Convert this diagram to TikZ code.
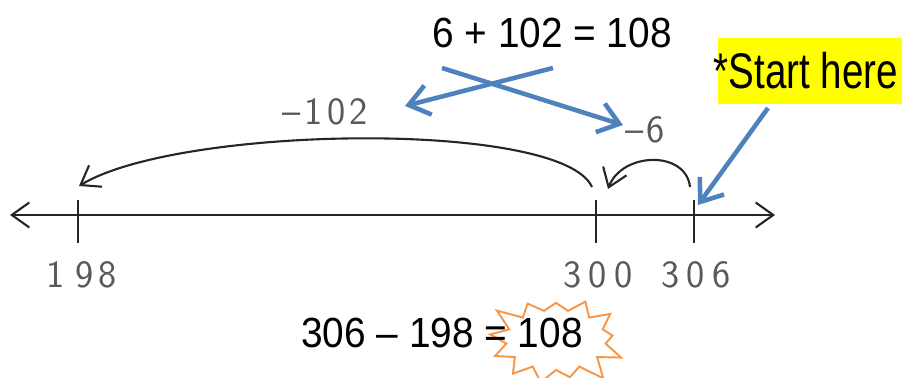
\documentclass[tikz,border=0pt]{standalone}
\usepackage{fontspec}
\setmainfont{Liberation Sans}
\newfontfamily\eqfont[FakeStretch=0.92]{Liberation Sans}
\newfontfamily\notefont[FakeStretch=0.77]{Liberation Sans}
\usetikzlibrary{arrows.meta,shapes.symbols}
\definecolor{calloutblue}{RGB}{79,129,189}
\definecolor{burstorange}{RGB}{247,150,70}
\definecolor{hiyellow}{RGB}{255,255,0}

\begin{document}
\begin{tikzpicture}[x=0.02cm, y=-0.02cm,
    hand/.style={line width=1.2pt, black!85},
    ticker/.style={line width=1.5pt, black!85},
    handlbl/.style={font=\fontsize{22}{22}\sffamily, text=black!65},
    eqn/.style={font=\eqfont\fontsize{24}{24}\selectfont, inner sep=0pt},
    callout/.style={-{Straight Barb[length=4mm,width=6mm]}, line width=2.6pt, calloutblue},
    >={Straight Barb[length=3.5mm,width=5mm]}
  ]
  \useasboundingbox (0,0) rectangle (907,378);

  % number line
  \coordinate (lineL) at (10,215);
  \coordinate (lineR) at (775,215);
  \draw[hand,<->] (lineL) -- (lineR);

  % ticks
  \coordinate (t198) at (78,200);   \coordinate (b198) at (78,243);
  \coordinate (t300) at (596,200);  \coordinate (b300) at (596,243);
  \coordinate (t306) at (694,200);  \coordinate (b306) at (694,243);
  \draw[ticker] (t198) -- (b198);
  \draw[ticker] (t300) -- (b300);
  \draw[ticker] (t306) -- (b306);

  \node[handlbl] (n198) at (82,275) {1\hspace{6pt}9\hspace{3pt}8};
  \node[handlbl] (n300) at (598,275) {3\hspace{4pt}0\hspace{4pt}0};
  \node[handlbl] (n306) at (696,275) {3\hspace{4pt}0\hspace{4pt}6};

  % jumps
  \coordinate (a300) at (592,187);
  \coordinate (a198) at (79,186);
  \coordinate (a306) at (690,187);
  \coordinate (a300b) at (608,189);
  \draw[hand,->] (a300) .. controls (562,120) and (180,125) .. (a198);
  \draw[hand,->] (a306) .. controls (686,150) and (622,152) .. (a300b);

  \node[handlbl] (m102) at (325,112) {--\hspace{2pt}1\hspace{3pt}0\hspace{2pt}2};
  \node[handlbl] (m6) at (645,130) {--\hspace{2pt}6};

  % equations
  \node[draw=burstorange, line width=1.1pt, starburst, starburst points=13,
    starburst point height=0.45cm, minimum width=2.9cm, minimum height=2.1cm,
    random starburst=3] (burst) at (556,340) {};
  \node[eqn] (topeq) at (552,33) {6 + 102 = 108};
  \node[eqn] (boteq) at (442,333) {306 – 198 = 108};

  % start here
  \node[fill=hiyellow, minimum width=3.7cm, minimum height=1.34cm, inner sep=0pt]
    (startbox) at (810,71) {};
  \node[font=\notefont\fontsize{28.5}{28.5}\selectfont, inner sep=0pt] (start) at (806,71) {*Start here};

  % callouts
  \coordinate (c1s) at (553,68);  \coordinate (c1e) at (405,106);
  \coordinate (c2s) at (442,68);  \coordinate (c2e) at (623,125);
  \coordinate (c3s) at (768,108); \coordinate (c3e) at (698,205);
  \draw[callout] (c1s) -- (c1e);
  \draw[callout] (c2s) -- (c2e);
  \draw[callout] (c3s) -- (c3e);
\end{tikzpicture}
\end{document}
